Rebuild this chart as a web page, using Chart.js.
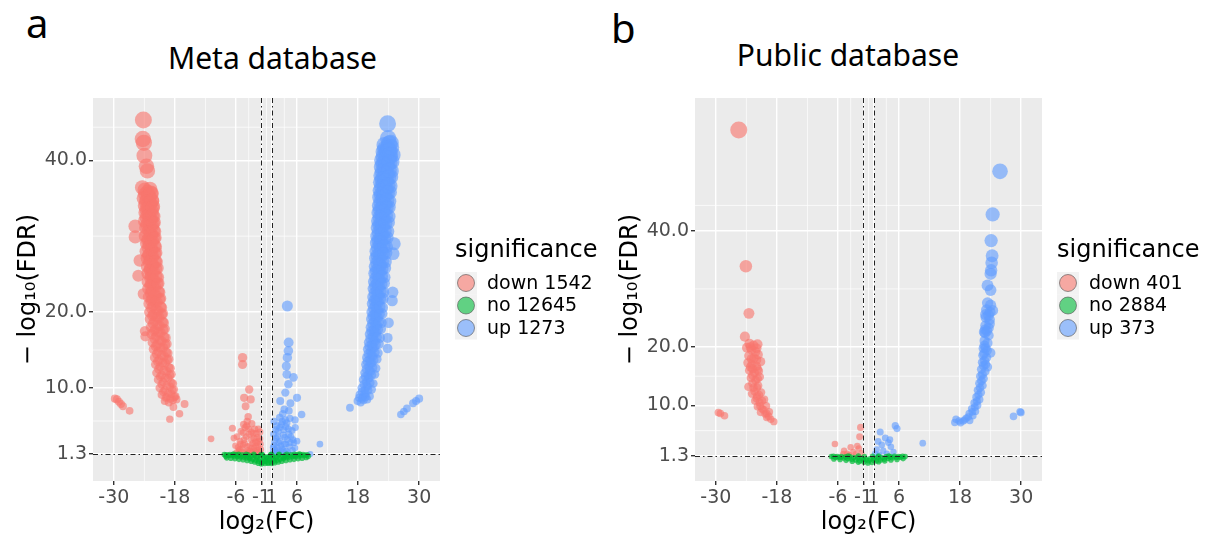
<!DOCTYPE html>
<html>
<head>
<meta charset="utf-8">
<script src="https://cdn.jsdelivr.net/npm/chart.js@4.4.1/dist/chart.umd.min.js"></script>
<style>
  body { margin: 0; background: #fff; width: 1218px; height: 541px; position: relative; overflow: hidden; }
  .wrap { position: absolute; top: 0; height: 541px; }
  #wrapA { left: 0; width: 602px; }
  #wrapB { left: 602px; width: 616px; }
  .tag { position: absolute; font-family: 'Noto Sans'; font-size: 40px; line-height: 40px; color: #000; }
  .title { position: absolute; font-family: 'Noto Sans'; font-size: 30px; line-height: 30px; color: #000; text-align: center; }
</style>
</head>
<body>
<div class="tag" style="left:26px;top:3px;">a</div>
<div class="tag" style="left:611px;top:8px;">b</div>
<div class="title" style="left:0;width:545px;top:43px;">Meta database</div>
<div class="title" style="left:600px;width:496px;top:40px;">Public database</div>
<div class="wrap" id="wrapA"><canvas id="chartA" width="602" height="541"></canvas></div>
<div class="wrap" id="wrapB"><canvas id="chartB" width="616" height="541"></canvas></div>

<script>
// tick labels / cut-offs
var xTicks = [-30, -18, -6, -1, 1, 6, 18, 30];
var yTicks = [1.3, 10, 20, 40];
var xMinor = [-24, -12, -3.5, 0, 3.5, 12, 24];
var yMinor = [5.65, 15, 30, 44.35];
var fcCut = [-1, 1];
var fdrCut = 1.3;

var groups = ['down', 'no', 'up'];
var metaCounts = [1542, 12645, 1273];
var publicCounts = [401, 2884, 373];

// Meta database, [log2FC, -log10FDR]
var metaDown = [
  [-24.2,45.3],[-24.3,42.8],[-24.1,42.3],[-24.0,40.6],[-23.6,39.2],[-23.4,38.6],[-24.4,36.4],[-25.8,31.3],[-25.8,29.9],
  [-24.9,26.8],[-25.2,24.8],[-24.2,22.4],[-23.9,17.5],[-23.8,16.8],
  [-23.9,36.1],[-23.4,35.8],[-22.9,36.2],[-22.6,35.6],
  [-24.1,35.0],[-23.5,34.8],[-23.0,35.2],[-22.5,34.6],
  [-23.9,34.0],[-23.3,33.7],[-22.8,34.3],[-22.3,33.9],
  [-23.8,33.1],[-23.2,32.8],[-22.6,33.3],[-22.2,32.6],
  [-23.9,32.0],[-23.3,31.7],[-22.7,32.2],[-22.1,31.8],
  [-23.7,31.1],[-23.1,30.8],[-22.5,31.3],[-22.0,30.6],
  [-23.8,30.0],[-23.2,29.6],[-22.6,30.2],[-21.9,29.8],
  [-23.6,29.1],[-23.0,28.8],[-22.4,29.3],[-21.8,28.6],
  [-23.7,28.0],[-23.1,27.6],[-22.5,28.2],[-21.7,27.8],
  [-23.5,27.1],[-22.9,26.8],[-22.3,27.3],[-21.6,26.6],
  [-23.5,26.0],[-22.9,25.7],[-22.2,26.2],[-21.4,25.8],
  [-23.4,25.1],[-22.8,24.8],[-22.1,25.3],[-21.3,24.6],
  [-23.4,24.0],[-22.7,23.7],[-22.0,24.2],[-21.2,23.8],
  [-23.3,23.1],[-22.6,22.8],[-21.8,23.3],[-21.0,22.6],
  [-23.2,22.0],[-22.5,21.7],[-21.7,22.2],[-20.8,21.8],
  [-23.1,21.1],[-22.3,20.8],[-21.5,21.3],[-20.6,20.6],
  [-23.0,20.0],[-22.2,19.7],[-21.3,20.2],[-20.4,19.8],
  [-22.9,19.1],[-22.0,18.8],[-21.1,19.3],[-20.2,18.6],
  [-22.7,18.0],[-21.9,17.7],[-21.0,18.2],[-20.0,17.8],
  [-22.6,17.1],[-21.7,16.8],[-20.8,17.3],[-19.8,16.6],
  [-22.4,16.0],[-21.5,15.7],[-20.6,16.2],[-19.6,15.8],
  [-22.2,15.1],[-21.3,14.8],[-20.3,15.3],[-19.4,14.6],
  [-22.0,14.0],[-21.1,13.7],[-20.1,14.2],[-19.2,13.8],
  [-21.8,13.1],[-20.9,12.8],[-19.9,13.3],[-18.9,12.6],
  [-21.6,12.0],[-20.6,11.7],[-19.6,12.2],[-18.7,11.8],
  [-21.3,11.1],[-20.3,10.8],[-19.3,11.3],[-18.4,10.6],
  [-21.0,10.0],[-20.0,9.7],[-19.0,10.2],[-18.2,9.8],
  [-20.6,9.1],[-19.6,8.8],[-18.7,9.2],[-17.9,8.9],
  [-20.0,8.3],[-19.2,8.1],[-18.4,8.4],[-17.7,8.5],
  [-23.8,35.5],[-23.2,35.3],[-22.7,35.7],[-23.7,34.5],[-23.1,34.3],[-22.5,34.7],
  [-23.6,33.5],[-23.0,33.3],[-22.4,33.7],[-23.6,32.5],[-23.0,32.3],[-22.4,32.7],
  [-23.5,31.5],[-22.9,31.3],[-22.3,31.7],[-23.5,30.5],[-22.8,30.3],[-22.2,30.7],
  [-23.4,29.5],[-22.7,29.3],[-22.1,29.7],[-23.3,28.5],[-22.6,28.3],[-22.0,28.7],
  [-23.2,27.5],[-22.5,27.3],[-21.9,27.7],[-23.1,26.5],[-22.4,26.3],[-21.8,26.7],
  [-23.0,25.5],[-22.4,25.3],[-21.7,25.7],[-22.9,24.5],[-22.3,24.3],[-21.6,24.7],
  [-22.9,23.5],[-22.2,23.3],[-21.4,23.7],[-22.8,22.5],[-22.0,22.3],[-21.2,22.7],
  [-22.7,21.5],[-21.9,21.3],[-21.0,21.7],[-22.6,20.5],[-21.7,20.3],[-20.8,20.7],
  [-22.4,19.5],[-21.5,19.3],[-20.6,19.7],[-22.3,18.5],[-21.4,18.3],[-20.4,18.7],
  [-22.1,17.5],[-21.2,17.3],[-20.3,17.7],[-22.0,16.5],[-21.0,16.3],[-20.1,16.7],
  [-21.8,15.5],[-20.8,15.3],[-19.9,15.7],[-21.6,14.5],[-20.6,14.3],[-19.7,14.7],
  [-21.4,13.5],[-20.4,13.3],[-19.5,13.7],[-21.2,12.5],[-20.2,12.3],[-19.2,12.7],
  [-20.9,11.5],[-19.9,11.3],[-19.0,11.7],[-20.6,10.5],[-19.6,10.3],[-18.7,10.7],
  [-20.3,9.5],[-19.3,9.3],[-18.5,9.7],[-19.8,8.7],[-18.9,8.6],[-18.1,8.8],
  [-17.1,6.6],[-19.0,5.9],[-16.1,7.9],[-18.3,7.5],
  [-29.8,8.6],[-29.4,8.5],[-29.0,8.2],[-28.6,7.9],[-28.2,7.6],[-26.9,7.0],
  [-4.7,14.0],[-4.7,13.1],[-3.4,9.8],[-4.4,8.7],[-3.1,8.5],[-4.1,7.6],[-3.8,5.6],[-6.7,4.7],[-10.9,3.3],[-6.4,3.4],
  [-5.6,2.2],[-5.2,3.0],[-4.9,2.0],[-4.6,4.1],[-4.3,2.7],[-4.0,3.6],[-3.7,1.8],[-3.5,4.6],[-3.3,2.4],[-3.0,3.2],
  [-2.8,1.6],[-2.6,4.0],[-2.4,2.1],[-2.2,2.9],[-2.0,1.5],[-1.8,3.5],[-1.6,2.2],[-1.4,1.6],[-1.2,2.6],[-1.1,1.9],
  [-4.8,1.6],[-5.9,1.5],[-3.9,5.0],[-2.9,5.3],[-2.3,4.6],[-1.5,3.0],[-3.6,6.2],[-4.5,5.2],[-1.3,4.2],[-2.7,2.7],
  [-3.2,1.7],[-4.1,1.5],[-5.3,1.9],[-6.1,2.4],
  [-5.8,3.6],[-5.0,4.3],[-4.4,3.2],[-3.8,2.3],[-3.4,3.9],[-2.9,2.1],[-2.5,3.4],[-2.1,2.4],[-1.7,1.8],[-1.3,3.3],
  [-5.5,1.7],[-4.6,2.5],[-3.0,4.2],[-2.0,4.0],[-4.2,4.8],[-5.1,2.6],[-1.9,2.8],[-3.6,1.5],[-2.4,1.7],[-1.6,4.6]
];
var metaNo = [
  [-8.3,1.25],[-7.9,1.2],[-7.5,1.15],[-7.2,1.25],[-6.9,1.1],[-6.6,1.2],[-6.3,1.05],[-6.0,1.25],[-5.7,1.0],[-5.4,1.15],
  [-5.1,0.95],[-4.8,1.2],[-4.5,0.9],[-4.2,1.1],[-3.9,0.8],[-3.6,1.2],[-3.3,0.7],[-3.0,1.0],[-2.7,0.6],[-2.4,1.15],
  [-2.1,0.5],[-1.8,0.85],[-1.5,0.35],[-1.2,1.1],[-0.9,0.2],[-0.6,0.6],[-0.3,0.05],[0.0,0.9],[0.3,0.1],[0.6,0.5],
  [0.9,0.25],[1.2,1.0],[1.5,0.4],[1.8,0.8],[2.1,0.5],[2.4,1.2],[2.7,0.6],[3.0,0.95],[3.3,0.7],[3.6,1.15],
  [3.9,0.85],[4.2,1.05],[4.5,0.9],[4.8,1.2],[5.1,1.0],[5.4,1.1],[5.7,1.0],[6.0,1.25],[6.3,1.05],[6.6,1.2],
  [6.9,1.1],[7.2,1.25],[7.6,1.15],[8.0,1.2],
  [-5.5,1.28],[-4.0,1.28],[-2.5,1.28],[-1.0,1.28],[-0.5,0.95],[0.5,0.95],[1.0,1.28],[2.5,1.28],[4.0,1.28],[5.5,1.28],
  [-2.0,0.95],[2.0,0.95],[-1.3,0.6],[1.3,0.6],[-0.2,0.4],[0.2,0.7],[-3.5,0.95],[3.5,0.95],[-0.8,1.2],[0.8,1.2],
  [-6.5,1.3],[6.5,1.3],
  [-7.8,0.8],[-7.0,0.75],[-6.2,0.7],[-5.4,0.6],[-4.6,0.55],[-3.8,0.45],[-3.0,0.35],[-2.3,0.25],[-1.6,0.1],[-1.0,0.0],
  [1.0,0.05],[1.6,0.15],[2.3,0.25],[3.0,0.35],[3.8,0.45],[4.6,0.55],[5.4,0.6],[6.2,0.7],[7.0,0.75],[7.8,0.85],
  [-0.4,0.3],[0.4,0.2],[-8.0,1.0],[8.2,1.0]
];
var metaUp = [
  [23.8,44.8],[23.9,42.9],[24.1,42.2],[23.6,41.3],[24.2,40.5],
  [23.2,42.0],[23.8,41.6],[24.4,42.3],
  [23.0,41.1],[23.6,40.8],[24.2,41.3],[24.8,40.7],
  [22.7,40.0],[23.3,39.7],[23.9,40.2],[24.6,39.8],
  [22.6,39.1],[23.2,38.8],[23.8,39.3],[24.5,38.6],
  [22.5,38.0],[23.1,37.7],[23.7,38.2],[24.4,37.8],
  [22.4,37.1],[23.0,36.8],[23.6,37.3],[24.3,36.6],
  [22.3,36.0],[22.9,35.7],[23.5,36.2],[24.2,35.8],
  [22.2,35.1],[22.8,34.8],[23.4,35.3],[24.1,34.6],
  [22.1,34.0],[22.7,33.7],[23.3,34.2],[24.0,33.8],
  [22.0,33.1],[22.6,32.8],[23.2,33.3],[24.0,32.6],
  [21.9,32.0],[22.5,31.7],[23.1,32.2],[23.9,31.8],
  [21.8,31.1],[22.4,30.8],[23.0,31.3],[23.8,30.6],
  [21.7,30.0],[22.3,29.7],[22.9,30.2],[23.7,29.8],
  [21.6,29.1],[22.2,28.8],[22.8,29.3],[23.6,28.6],
  [21.5,28.0],[22.1,27.7],[22.7,28.2],[23.5,27.8],
  [21.4,27.1],[22.0,26.8],[22.6,27.3],[23.4,26.6],
  [21.3,26.0],[21.9,25.7],[22.5,26.2],[23.3,25.8],
  [21.2,25.1],[21.8,24.8],[22.4,25.3],[23.2,24.6],
  [21.1,24.0],[21.7,23.7],[22.3,24.2],[23.1,23.8],
  [21.0,23.1],[21.6,22.8],[22.2,23.3],[23.0,22.6],
  [20.9,22.0],[21.5,21.7],[22.1,22.2],[22.9,21.8],
  [20.8,21.1],[21.4,20.8],[22.0,21.3],[22.8,20.6],
  [20.7,20.0],[21.3,19.7],[21.9,20.2],[22.7,19.8],
  [20.6,19.1],[21.2,18.8],[21.8,19.3],[22.6,18.6],
  [20.5,18.0],[21.1,17.7],[21.7,18.2],[22.5,17.8],
  [20.3,17.1],[20.9,16.8],[21.5,17.3],[22.3,16.6],
  [20.1,16.0],[20.7,15.7],[21.3,16.2],[22.1,15.8],
  [19.9,15.1],[20.5,14.8],[21.1,15.3],[21.9,14.6],
  [19.7,14.0],[20.3,13.7],[20.9,14.2],[21.7,13.8],
  [19.5,13.1],[20.1,12.8],[20.7,13.3],[21.5,12.6],
  [19.3,12.0],[19.9,11.7],[20.5,12.2],[21.3,11.8],
  [19.0,11.1],[19.6,10.8],[20.2,11.3],[21.0,10.6],
  [18.7,10.0],[19.3,9.7],[19.9,10.2],[20.7,9.8],
  [18.3,9.1],[18.9,8.8],[19.5,9.2],[20.3,8.9],
  [17.9,8.3],[18.5,8.1],[19.1,8.4],[19.8,8.5],
  [23.3,41.5],[23.9,41.2],[24.5,41.7],[23.0,40.5],[23.6,40.3],[24.3,40.7],
  [22.9,39.5],[23.5,39.3],[24.2,39.7],[22.8,38.5],[23.4,38.3],[24.1,38.7],
  [22.7,37.5],[23.3,37.3],[24.0,37.7],[22.6,36.5],[23.2,36.3],[23.9,36.7],
  [22.5,35.5],[23.1,35.3],[23.8,35.7],[22.4,34.5],[23.0,34.3],[23.7,34.7],
  [22.3,33.5],[22.9,33.3],[23.6,33.7],[22.2,32.5],[22.8,32.3],[23.5,32.7],
  [22.1,31.5],[22.7,31.3],[23.4,31.7],[22.0,30.5],[22.6,30.3],[23.3,30.7],
  [21.9,29.5],[22.5,29.3],[23.2,29.7],[21.8,28.5],[22.4,28.3],[23.1,28.7],
  [21.7,27.5],[22.3,27.3],[23.0,27.7],[21.6,26.5],[22.2,26.3],[22.9,26.7],
  [21.5,25.5],[22.1,25.3],[22.8,25.7],[21.4,24.5],[22.0,24.3],[22.7,24.7],
  [21.3,23.5],[21.9,23.3],[22.6,23.7],[21.2,22.5],[21.8,22.3],[22.5,22.7],
  [21.1,21.5],[21.7,21.3],[22.4,21.7],[21.0,20.5],[21.6,20.3],[22.3,20.7],
  [20.9,19.5],[21.5,19.3],[22.2,19.7],[20.8,18.5],[21.4,18.3],[22.1,18.7],
  [20.6,17.5],[21.2,17.3],[21.9,17.7],[20.4,16.5],[21.0,16.3],[21.7,16.7],
  [20.2,15.5],[20.8,15.3],[21.5,15.7],[20.0,14.5],[20.6,14.3],[21.3,14.7],
  [19.8,13.5],[20.4,13.3],[21.1,13.7],[19.6,12.5],[20.2,12.3],[20.9,12.7],
  [19.4,11.5],[20.0,11.3],[20.7,11.7],[19.1,10.5],[19.7,10.3],[20.4,10.7],
  [18.7,9.5],[19.3,9.3],[20.0,9.7],[18.2,8.7],[18.8,8.6],[19.5,8.8],
  [25.1,29.0],[24.9,27.7],[24.8,22.6],[24.7,21.5],[23.8,16.6],[23.8,15.2],[24.0,18.6],
  [16.4,7.4],[26.4,6.5],[27.0,6.9],[27.6,7.3],[28.8,8.0],[29.4,8.3],[30.0,8.6],
  [4.1,20.8],[4.35,16.0],[4.3,14.9],[4.1,14.0],[3.9,12.9],[4.0,11.8],[5.3,11.4],[4.3,10.5],[3.7,9.4],[2.7,8.3],
  [6.0,8.7],[4.7,8.0],[6.9,6.5],[5.65,4.8],[6.0,3.0],[10.5,2.6],[8.6,1.3],
  [1.3,1.6],[1.5,2.5],[1.7,1.9],[1.9,3.4],[2.1,2.2],[2.3,4.3],[2.5,1.5],[2.7,3.0],[2.9,5.2],[3.1,2.0],
  [3.3,3.8],[3.5,2.6],[3.7,5.8],[3.9,1.7],[4.1,3.2],[4.3,4.6],[4.5,2.3],[4.8,3.6],[5.1,1.8],[5.4,2.8],
  [1.4,3.9],[2.0,5.0],[2.6,6.1],[3.2,6.6],[3.8,4.9],[4.6,6.0],[1.8,1.5],[2.4,2.8],[3.0,1.6],[3.6,3.5],
  [4.2,1.5],[5.0,4.4],
  [1.6,3.0],[2.2,3.6],[2.8,2.4],[3.4,4.5],[3.8,2.6],[4.4,3.9],[5.2,3.2],[1.3,2.2],[2.0,1.7],[2.6,4.8],
  [3.1,5.6],[4.0,5.4],[4.7,2.8],[1.8,4.5],[3.3,1.8],[5.6,2.1],[1.5,5.6],[4.4,7.0],[3.5,7.2],[5.6,5.8]
];

// Public database
var publicDown = [
  [-25.5,57.3],[-24.1,33.9],[-23.5,25.8],[-24.3,21.8],
  [-23.4,20.6],[-22.6,20.3],[-21.8,20.5],[-23.0,19.6],[-22.2,19.2],[-23.5,18.5],[-22.5,18.1],[-21.7,18.7],
  [-23.7,17.3],[-22.9,17.0],[-22.0,16.7],[-23.4,16.0],[-22.4,15.6],[-21.6,15.9],[-23.1,14.7],[-22.2,14.3],
  [-21.4,14.9],[-23.6,13.2],[-22.6,13.0],[-21.7,13.4],[-22.9,12.0],[-21.9,11.6],[-21.1,12.2],[-22.3,10.8],
  [-21.4,10.5],[-20.5,11.0],[-21.8,9.8],[-20.9,9.4],[-20.1,9.9],[-21.2,8.8],[-20.3,8.5],[-19.5,8.9],
  [-20.0,7.9],[-19.2,7.6],[-18.6,7.2],[-22.8,16.3],[-21.2,17.5],[-23.9,19.9],
  [-23.2,20.0],[-22.0,19.8],[-23.0,18.0],[-22.0,17.8],[-23.2,16.6],[-21.8,16.2],[-22.8,15.2],[-21.8,14.6],
  [-22.8,13.8],[-21.9,13.0],[-22.4,12.4],[-21.5,11.8],[-22.0,11.2],[-20.9,10.8],[-21.3,9.9],[-20.6,9.2],
  [-20.0,8.6],[-19.6,8.1],
  [-29.5,8.75],[-29.1,8.6],[-28.3,8.2],
  [-1.55,6.2],[-1.75,4.6],[-6.6,3.35],[-3.5,2.8],[-4.8,2.2],[-4.2,1.7],[-3.0,2.0],[-2.5,1.6],[-1.9,2.6],
  [-1.4,1.8],[-3.8,1.5],[-2.2,3.0],[-5.0,1.6]
];
var publicNo = [
  [-7.3,1.2],[-6.9,1.25],[-6.5,1.1],[-6.1,1.2],[-5.7,1.05],[-5.3,1.2],[-4.9,0.95],[-4.5,1.15],[-4.1,0.85],[-3.7,1.2],
  [-3.3,0.75],[-2.9,1.05],[-2.5,0.6],[-2.1,1.0],[-1.7,0.45],[-1.3,0.9],[-0.9,0.25],[-0.5,0.7],[-0.1,0.1],[0.3,0.8],
  [0.7,0.2],[1.1,0.9],[1.5,0.45],[1.9,1.1],[2.3,0.6],[2.7,1.0],[3.1,0.75],[3.5,1.2],[3.9,0.9],[4.3,1.15],
  [4.7,1.0],[5.1,1.25],[5.5,1.05],[5.9,1.2],[6.3,1.1],[6.7,1.25],[7.2,1.2],
  [-4.0,1.28],[-2.0,1.28],[-0.8,1.2],[0.8,1.25],[2.0,1.28],[4.0,1.28],[-1.0,0.7],[1.0,0.55],[0.0,0.5],
  [-6.8,0.8],[-5.6,0.7],[-4.4,0.55],[-3.2,0.4],[-2.0,0.25],[2.0,0.3],[3.2,0.45],[4.4,0.6],[5.6,0.7],[6.8,0.85]
];
var publicUp = [
  [25.85,50.2],[24.4,42.8],[24.1,38.3],[24.3,35.7],[24.2,34.5],[24.1,33.2],[24.0,32.6],[23.4,30.6],[24.0,29.8],
  [23.4,27.6],[24.0,27.2],[23.2,26.4],[23.9,26.0],[24.4,26.3],[23.1,25.1],[23.8,24.7],[23.0,23.7],[23.6,23.3],
  [22.9,22.4],[23.6,22.0],[22.8,21.1],[23.4,20.7],[22.6,19.8],[23.3,19.4],[22.5,18.6],[23.2,18.2],[24.0,19.0],
  [22.4,17.4],[23.0,17.0],[22.2,16.2],[22.9,15.8],[23.4,16.6],[22.0,15.0],[22.6,14.6],[21.8,13.8],[22.4,13.4],
  [21.5,12.6],[22.1,12.2],[21.2,11.4],[21.8,11.0],[20.8,10.4],[21.4,10.0],[20.3,9.4],[21.0,9.0],[19.8,8.6],
  [20.5,8.2],[19.2,7.8],[19.9,7.4],[18.6,7.3],[18.1,7.0],[16.95,7.05],[17.2,7.6],[22.7,22.6],[23.8,24.0],
  [23.0,25.6],[23.6,25.5],[22.9,23.0],[23.3,22.8],[22.8,20.3],[23.0,19.8],[22.7,18.9],[22.8,17.7],[22.6,16.8],
  [22.4,15.3],[22.2,14.2],[21.9,13.0],[21.6,11.8],[21.3,10.7],[20.9,9.7],[20.4,8.9],[19.6,8.0],[18.9,7.5],[17.8,7.3],
  [28.5,8.1],[29.95,8.75],[29.8,8.9],
  [5.26,6.5],[10.66,3.5],[5.6,6.0],[2.3,5.4],[1.9,3.8],[2.6,3.2],[3.3,4.4],[3.9,3.6],[4.4,2.9],[2.9,2.2],
  [1.6,2.4],[3.6,1.7],[4.9,2.0],[2.1,1.5],[4.2,4.1],[1.3,1.7]
];

var colors = ['rgba(248,118,109,0.62)', 'rgba(0,186,56,0.7)', 'rgba(97,156,255,0.62)'];
var keyColors = ['rgba(248,118,109,0.6)', 'rgba(0,186,56,0.6)', 'rgba(97,156,255,0.6)'];

Chart.defaults.font.family = 'DejaVu Sans';
Chart.defaults.animation = false;

function toXY(arr) {
  return arr.map(function (p) { return { x: p[0], y: p[1] }; });
}

var ggPlugin = {
  id: 'ggPanel',
  beforeDraw: function (chart) {
    var ctx = chart.ctx, a = chart.chartArea;
    var xs = chart.scales.x, ys = chart.scales.y;
    ctx.save();
    ctx.fillStyle = '#EBEBEB';
    ctx.fillRect(a.left, a.top, a.right - a.left, a.bottom - a.top);
    ctx.strokeStyle = '#FFFFFF';
    ctx.lineWidth = 0.7;
    xMinor.forEach(function (v) {
      var px = xs.getPixelForValue(v);
      ctx.beginPath(); ctx.moveTo(px, a.top); ctx.lineTo(px, a.bottom); ctx.stroke();
    });
    yMinor.forEach(function (v) {
      var py = ys.getPixelForValue(v);
      if (py < a.top || py > a.bottom) return;
      ctx.beginPath(); ctx.moveTo(a.left, py); ctx.lineTo(a.right, py); ctx.stroke();
    });
    ctx.restore();
  },
  afterDatasetsDraw: function (chart) {
    var ctx = chart.ctx, a = chart.chartArea;
    var xs = chart.scales.x, ys = chart.scales.y;
    ctx.save();
    ctx.strokeStyle = '#222';
    ctx.lineWidth = 1;
    ctx.setLineDash([5, 3, 1.5, 3]);
    fcCut.forEach(function (v) {
      var px = Math.round(xs.getPixelForValue(v)) + 0.5;
      ctx.beginPath(); ctx.moveTo(px, a.top); ctx.lineTo(px, a.bottom); ctx.stroke();
    });
    var py = Math.round(ys.getPixelForValue(fdrCut)) + 0.5;
    ctx.beginPath(); ctx.moveTo(a.left, py); ctx.lineTo(a.right, py); ctx.stroke();
    ctx.restore();
  },
  afterDraw: function (chart) {
    // ggplot-style legend to the right of the panel
    var ctx = chart.ctx, a = chart.chartArea;
    var counts = chart.options.plugins.ggPanel.counts;
    var lx = a.right + 15;
    ctx.save();
    ctx.fillStyle = '#000';
    ctx.textBaseline = 'middle';
    ctx.textAlign = 'left';
    ctx.font = '24px "DejaVu Sans"';
    ctx.fillText('significance', lx, 251);
    ctx.font = '19px "DejaVu Sans"';
    groups.forEach(function (g, i) {
      var cy = 283 + i * 22.5;
      ctx.fillStyle = '#F2F2F2';
      ctx.fillRect(lx, cy - 11, 22, 22.5);
      ctx.beginPath();
      ctx.arc(lx + 11, cy, 8.5, 0, Math.PI * 2);
      ctx.fillStyle = keyColors[i];
      ctx.fill();
      ctx.lineWidth = 1;
      ctx.strokeStyle = 'rgba(80,80,80,0.6)';
      ctx.stroke();
      ctx.fillStyle = '#000';
      ctx.fillText(g + ' ' + counts[i], lx + 32, cy + 1);
    });
    ctx.restore();
  }
};

function makeVolcano(canvasId, down, no, up, counts, yMin, yMax, rightPad) {
  var all = down.concat(up);
  var yTop = Math.max.apply(null, all.map(function (p) { return p[1]; }));
  var radius = function (c) { return 3 + 5.5 * Math.max(c.raw.y, 0) / yTop; };
  var sets = [no, down, up];
  var order = [1, 0, 2];
  var datasets = sets.map(function (d, k) {
    var i = order[k];
    var r = (i === 1) ? 2.8 : radius;
    return {
      label: groups[i] + ' ' + counts[i],
      data: toXY(d),
      backgroundColor: colors[i],
      borderWidth: 0,
      pointRadius: r,
      pointHoverRadius: r
    };
  });
  return new Chart(document.getElementById(canvasId), {
    type: 'scatter',
    data: { datasets: datasets },
    plugins: [ggPlugin],
    options: {
      responsive: false,
      animation: false,
      layout: { padding: { top: 98, right: rightPad, bottom: 0, left: 0 }, autoPadding: false },
      plugins: {
        legend: { display: false },
        tooltip: { enabled: false },
        ggPanel: { counts: counts }
      },
      scales: {
        x: {
          type: 'linear',
          min: -34.1,
          max: 34.1,
          afterBuildTicks: function (axis) { axis.ticks = xTicks.map(function (v) { return { value: v }; }); },
          afterFit: function (axis) { axis.height = 60; },
          ticks: {
            autoSkip: false,
            maxRotation: 0,
            padding: 2,
            color: '#4D4D4D',
            font: { size: 19 },
            callback: function (v) { return String(v); }
          },
          grid: { color: '#FFFFFF', lineWidth: 1.4, tickColor: '#333333', tickLength: 4 },
          border: { display: false },
          title: { display: true, text: 'log₂(FC)', color: '#000', font: { size: 24 }, padding: { top: 0, bottom: 4 } }
        },
        y: {
          type: 'linear',
          min: yMin,
          max: yMax,
          afterBuildTicks: function (axis) { axis.ticks = yTicks.map(function (v) { return { value: v }; }); },
          afterFit: function (axis) { axis.width = 93; },
          ticks: {
            autoSkip: false,
            padding: 2,
            color: '#4D4D4D',
            font: { size: 19 },
            callback: function (v) { return Number(v).toFixed(1); }
          },
          grid: { color: '#FFFFFF', lineWidth: 1.4, tickColor: '#333333', tickLength: 4 },
          border: { display: false },
          title: { display: true, text: '− log₁₀(FDR)', color: '#000', font: { size: 24 }, padding: { top: 14, bottom: 0 } }
        }
      }
    }
  });
}

var chartA = makeVolcano('chartA', metaDown, metaNo, metaUp, metaCounts, -2.25, 48.2, 162);
var chartB = makeVolcano('chartB', publicDown, publicNo, publicUp, publicCounts, -3.0, 62.8, 176);
</script>
</body>
</html>
